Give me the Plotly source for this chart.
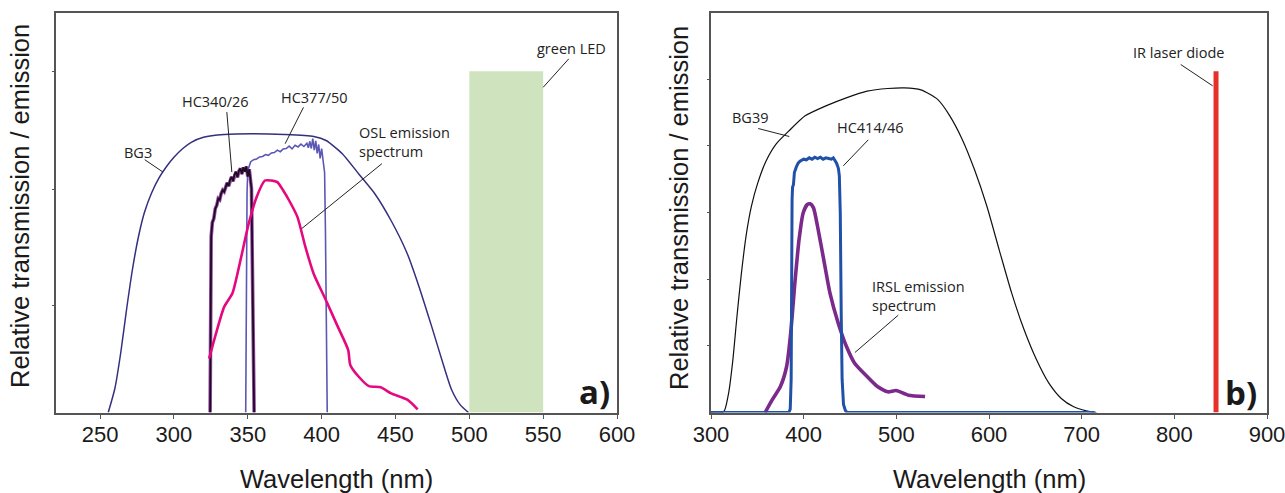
import plotly.graph_objects as go

# ---------------- Panel a) data (y in % of axis height) ----------------
bg3_x = [255.5, 260, 264, 268, 272, 276, 280, 285, 290, 295, 300, 306, 312, 320, 334, 353, 375, 394.7, 403, 414, 425, 436, 447, 458, 466, 474.6, 482.8, 488, 493.9, 499.4]
bg3_y = [0, 6, 15, 26, 36, 44, 50, 55, 58.7, 61.5, 63.8, 66, 67.6, 68.8, 69.5, 69.7, 69.5, 69, 68, 64.7, 59.7, 54.7, 48, 39.7, 31.4, 21.4, 11.5, 5.7, 1.9, 0]

hc340_x = [324.5, 324.8, 325.2, 326, 327, 328, 329, 330, 331, 332, 333, 334, 335, 336, 337, 338, 339, 340, 341, 342, 343, 344, 345, 346, 347, 348, 349, 350, 351, 351.8, 352.5, 353, 353.5, 354, 354.3]
hc340_y = [0, 20, 44, 47.5, 48.5, 51, 51.8, 53.5, 53.2, 54.8, 55.6, 55.2, 56.5, 57.4, 56.6, 58.2, 58.9, 57.8, 59.5, 60.2, 58.8, 60.4, 61.0, 59.6, 61.3, 60.2, 61.5, 59.0, 60.8, 58.5, 56, 40, 20, 5, 0]

hc377_x = [348.6, 349, 349.5, 350, 351, 352, 354, 356, 358, 360, 362, 364, 366, 368, 370, 372, 374, 376, 378, 380, 382, 384, 386, 388, 390, 391, 392, 393, 394, 395, 396, 397, 398, 399, 400, 401, 402, 402.6, 403.2, 403.8]
hc377_y = [0, 30, 55, 60.5, 61.8, 62.7, 63.2, 63.4, 63.9, 64.0, 64.5, 64.3, 64.9, 65.0, 65.6, 65.2, 65.9, 66.0, 66.6, 65.9, 66.8, 66.4, 67.1, 66.5, 67.3, 66.2, 67.8, 66.0, 68.5, 65.6, 67.9, 64.8, 67.0, 63.5, 66.0, 62.0, 60.0, 45, 15, 0]

osl_x = [323.8, 328.5, 334, 339.6, 345, 350.6, 356, 361.6, 365.7, 370, 374, 378, 383.6, 389, 394.6, 403, 411, 418, 419.4, 425, 432, 440, 447, 458, 465]
osl_y = [13.5, 19.8, 26.4, 29.8, 38, 47.2, 53.9, 58, 58, 57.6, 55.5, 53, 48.9, 41.4, 34.7, 28, 21.4, 15.6, 11.9, 9, 6.6, 6.3, 4.8, 3.2, 0.8]

led_range = [500, 550]
led_level = 85.3

a_yticks = [26.7, 55.8, 85.3]

# ---------------- Panel b) data ----------------
bg39_x = [300, 312.5, 314.7, 319, 323.6, 328, 332.5, 338.3, 343.7, 350.4, 359.3, 370.4, 383.8, 401.6, 424, 446, 468.5, 490.8, 508.6, 526.5, 544.3, 557.7, 571, 584.4, 597.8, 611, 624.5, 637.9, 651.3, 664.6, 678, 691.4, 704.8, 716]
bg39_y = [0, 0, 0.035, 0.29, 0.79, 1.44, 2.05, 2.69, 3.1, 3.44, 3.77, 4.03, 4.22, 4.45, 4.6, 4.72, 4.82, 4.86, 4.87, 4.84, 4.7, 4.45, 4.1, 3.64, 3.09, 2.44, 1.79, 1.24, 0.79, 0.44, 0.21, 0.085, 0.025, 0]

hc414_x = [300, 384, 385.5, 386.5, 387.5, 388, 389, 390, 392, 394, 396, 398, 400, 403, 406, 409, 412, 415, 418, 421, 424, 427, 430, 432, 434, 435.5, 436.5, 437.5, 438.5, 439.5, 440.5, 441.5, 443, 445, 447, 713.7]
hc414_y = [0, 0, 0.05, 0.5, 3.2, 3.38, 3.42, 3.6, 3.68, 3.74, 3.77, 3.78, 3.80, 3.79, 3.82, 3.80, 3.83, 3.81, 3.83, 3.80, 3.82, 3.81, 3.80, 3.82, 3.78, 3.74, 3.70, 3.66, 3.55, 3.0, 1.5, 0.5, 0.12, 0.03, 0, 0]

irsl_x = [358.4, 366, 374.9, 381.6, 386, 390.5, 395, 399.4, 403.9, 407, 410.6, 415, 421.7, 428.4, 437.3, 446.2, 455, 468.5, 479.6, 490.8, 499.7, 513, 531]
irsl_y = [0, 0.19, 0.39, 0.69, 1.19, 1.94, 2.59, 2.99, 3.12, 3.13, 3.07, 2.79, 2.29, 1.79, 1.34, 0.99, 0.74, 0.54, 0.39, 0.31, 0.33, 0.26, 0.24]

laser_nm = 845
laser_level = 5.12

b_yticks = [1, 2, 3, 4, 5]

# ---------------- figure ----------------
W, H = 1285, 493
fig = go.Figure()

def ln(x, y, color, width, xa="x", ya="y", fill=None, fillcolor=None, shape="linear"):
    fig.add_trace(go.Scatter(x=x, y=y, mode="lines",
                             line=dict(color=color, width=width, shape=shape, smoothing=0.6),
                             xaxis=xa, yaxis=ya, fill=fill, fillcolor=fillcolor,
                             hoverinfo="skip", showlegend=False))

# panel a
ln([led_range[0], led_range[0], led_range[1], led_range[1]], [0, led_level, led_level, 0],
   "rgba(0,0,0,0)", 0, fill="toself", fillcolor="#cfe4be")
ln(bg3_x, bg3_y, "#34307f", 1.5, shape="spline")
ln(hc377_x, hc377_y, "#5b57b5", 1.6)
ln(hc340_x, hc340_y, "#9a4aa8", 3.6)
ln(hc340_x, hc340_y, "#1c0c22", 1.8)
ln(osl_x, osl_y, "#e5097f", 2.6, shape="spline")

# panel b
ln(bg39_x, bg39_y, "#111111", 1.2, "x2", "y2", shape="spline")
ln(irsl_x, irsl_y, "#7b2a8b", 3.6, "x2", "y2", shape="spline")
ln(hc414_x, hc414_y, "#2150a8", 3.0, "x2", "y2")
ln([laser_nm, laser_nm], [0, laser_level], "#e8302a", 5, "x2", "y2")

ax_common = dict(showline=True, mirror=True, linecolor="#555555", linewidth=1.5,
                 showgrid=False, zeroline=False, fixedrange=True, automargin=False)
tickfont = dict(family="Liberation Sans, Arial", size=22, color="#1a1a1a")
xtick = dict(ticks="outside", ticklen=5, tickcolor="#555555", tickfont=tickfont,
             ticklabeloverflow="allow", ticklabelstandoff=-4)

ydom = [(H - 412.5) / H, (H - 12.5) / H]
fig.update_layout(
    template="none",
    width=W, height=H, autosize=False,
    margin=dict(l=0, r=0, t=0, b=0, pad=0),
    paper_bgcolor="white", plot_bgcolor="white",
    xaxis=dict(domain=[55.8 / W, 617 / W], range=[220, 600], tickvals=list(range(250, 601, 50)),
               **xtick, **ax_common),
    yaxis=dict(domain=ydom, range=[0, 100], tickvals=a_yticks, showticklabels=False,
               ticks="outside", ticklen=2, tickcolor="#555555", **ax_common),
    xaxis2=dict(domain=[711 / W, 1267 / W], range=[300, 900], tickvals=list(range(300, 901, 100)),
                anchor="y2", **xtick, **ax_common),
    yaxis2=dict(domain=ydom, range=[0, 6], tickvals=b_yticks, showticklabels=False, anchor="x2",
                ticks="outside", ticklen=2, tickcolor="#555555", **ax_common),
)

lab = dict(family="Open Sans", size=14.5, color="#222222")

def text(x, y, t, xa="x", ya="y", xanchor="center", align="center"):
    fig.add_annotation(x=x, y=y, xref=xa, yref=ya, text=t, showarrow=False, font=lab,
                       xanchor=xanchor, yanchor="middle", align=align)

def pointer(x0, y0, x1, y1, xa="x", ya="y"):
    fig.add_shape(type="line", x0=x0, y0=y0, x1=x1, y1=y1, xref=xa, yref=ya,
                  line=dict(color="#222222", width=1))

# panel a labels
text(275.5, 65.1, "BG3")
pointer(280.2, 63.2, 292.6, 60.1)
text(328.4, 77.8, "HC340/26")
pointer(335.8, 75.1, 339.2, 60.1)
text(395.1, 78.8, "HC377/50")
pointer(387.7, 76.3, 375.3, 67.2)
text(423.9, 67.6, "OSL emission<br>spectrum", xanchor="left", align="left")
pointer(440.8, 62.2, 386.6, 46.0)
text(569.4, 91.1, "green LED")
pointer(567.3, 88.4, 550, 81.3)

# panel b labels
text(342.1, 4.42, "BG39", "x2", "y2")
pointer(351, 4.26, 384.5, 4.14, "x2", "y2")
text(472.4, 4.27, "HC414/46", "x2", "y2")
pointer(469.7, 4.09, 442.8, 3.70, "x2", "y2")
text(471.8, 1.75, "IRSL emission<br>spectrum", "x2", "y2", xanchor="left", align="left")
pointer(502.1, 1.46, 455.3, 0.90, "x2", "y2")
text(805, 5.40, "IR laser diode", "x2", "y2")
pointer(806.9, 5.22, 841.4, 4.90, "x2", "y2")

# panel letters
bold = dict(family="Open Sans", size=33, color="#1a1a1a", weight="bold")
fig.add_annotation(x=612 / W, y=(H - 391) / H, xref="paper", yref="paper", text="a)",
                   showarrow=False, font=bold, xanchor="right", yanchor="middle")
fig.add_annotation(x=1259 / W, y=(H - 392) / H, xref="paper", yref="paper", text="b)",
                   showarrow=False, font=bold, xanchor="right", yanchor="middle")

# axis titles
tfont = dict(family="Liberation Sans, Arial", size=25.5, color="#1a1a1a")
fig.add_annotation(x=336 / W, y=(H - 479) / H, xref="paper", yref="paper", text="Wavelength (nm)",
                   showarrow=False, font=tfont, xanchor="center", yanchor="middle")
fig.add_annotation(x=989 / W, y=(H - 479) / H, xref="paper", yref="paper", text="Wavelength (nm)",
                   showarrow=False, font=tfont, xanchor="center", yanchor="middle")
fig.add_annotation(x=20 / W, y=(H - 206) / H, xref="paper", yref="paper",
                   text="Relative transmission / emission", textangle=-90,
                   showarrow=False, font=tfont, xanchor="center", yanchor="middle")
fig.add_annotation(x=679 / W, y=(H - 208) / H, xref="paper", yref="paper",
                   text="Relative transmission / emission", textangle=-90,
                   showarrow=False, font=tfont, xanchor="center", yanchor="middle")

fig.write_html("out.html")
